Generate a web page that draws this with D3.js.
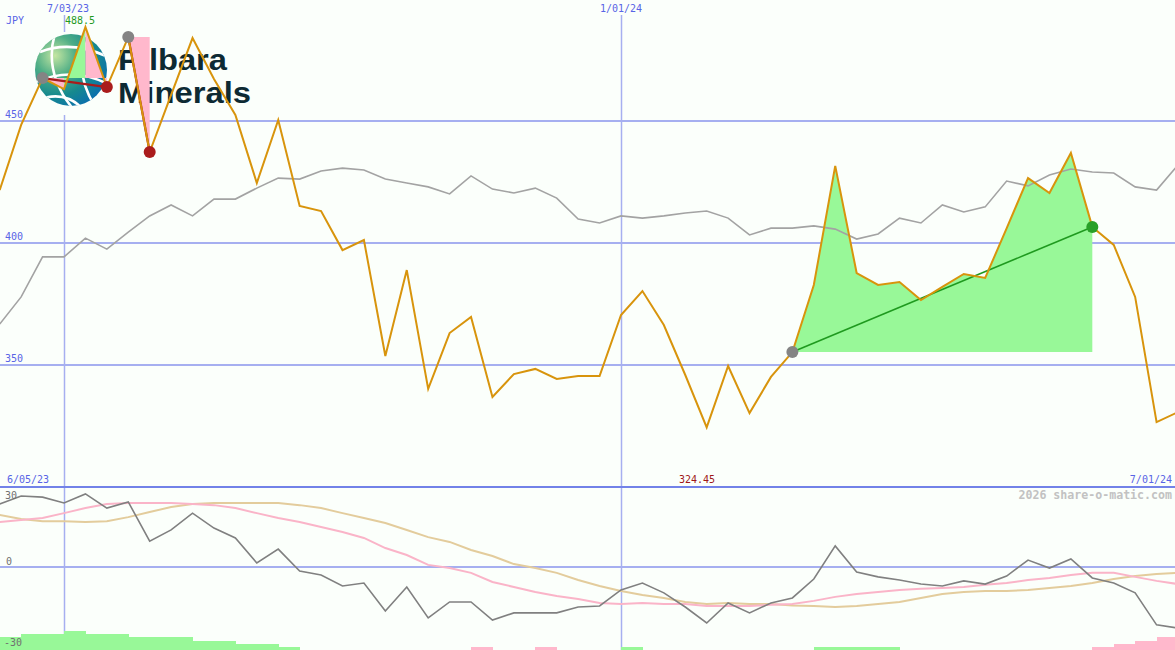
<!DOCTYPE html>
<html>
<head>
<meta charset="utf-8">
<script src="https://cdn.jsdelivr.net/npm/d3@7"></script>
<style>
html,body{margin:0;padding:0;background:#fbfffb;}
svg{display:block;}
text.lbl{font-family:"DejaVu Sans Mono",monospace;}
text.logo{font-family:"Liberation Sans",Arial,sans-serif;font-weight:700;}
</style>
</head>
<body>
<svg id="chart" width="1175" height="650"></svg>
<script>
// ---------- DATA ----------
const startDate = Date.UTC(2023, 5, 12);           // weekly closes, 12 Jun 2023 .. 1 Jul 2024
const price = [421.7,448.4,467.6,463.1,488.5,463.9,484.4,437.3,460.7,484.0,
               467.2,452.5,424.6,450.4,415.2,413.1,397.1,401.2,353.7,388.9,
               340.2,363.1,369.7,336.9,346.3,348.4,344.3,345.5,345.5,370.5,
               380.3,366.4,345.9,324.45,349.6,330.3,345.1,355.3,382.8,431.6,
               387.7,382.8,384.0,376.6,382.0,387.3,385.7,406.0,426.6,420.5,
               436.9,406.6,399.2,377.9,326.6,330.7];
const compare = [366.8,377.9,394.3,394.3,402.0,397.5,404.5,411.1,415.6,411.1,
                 418.0,418.0,422.5,426.6,426.2,429.5,430.7,429.9,426.2,424.6,
                 423.0,420.1,427.5,422.1,420.5,422.5,418.4,409.8,408.2,411.1,
                 410.2,411.1,412.3,413.1,410.2,403.3,406.1,406.1,407.0,405.7,
                 401.6,403.7,410.2,408.2,415.6,412.7,414.8,425.4,423.4,427.9,
                 430.3,429.1,428.7,423.0,421.7,432.0];
const osc = [23.6,26.6,26.2,24.0,27.4,22.1,24.4,9.7,13.9,20.2,
             14.6,10.9,1.5,6.7,-1.5,-3.0,-7.1,-6.0,-16.5,-7.5,
             -19.1,-13.1,-13.1,-19.9,-17.2,-17.2,-17.2,-15.0,-14.6,-8.6,
             -6.0,-9.7,-15.0,-21.0,-13.5,-17.2,-13.5,-11.6,-4.5,7.9,
             -1.9,-3.7,-4.9,-6.4,-7.1,-5.2,-6.4,-3.4,2.6,-0.4,
             3.0,-4.1,-6.0,-9.7,-21.7,-22.9];
const oscFast = [16.9,17.6,18.4,20.2,22.1,23.6,24.0,24.0,24.0,23.6,
                 23.2,22.1,20.2,18.4,16.9,15.0,13.1,10.9,7.1,4.5,
                 0.8,-0.4,-2.2,-5.6,-7.5,-9.4,-10.9,-12.0,-13.5,-13.9,
                 -13.5,-13.9,-13.9,-14.6,-14.6,-14.6,-14.2,-13.9,-12.7,-11.2,
                 -10.1,-9.4,-8.6,-8.2,-7.9,-7.5,-6.7,-6.0,-4.9,-4.1,
                 -3.0,-2.2,-2.2,-3.7,-5.2,-6.4];
const oscSlow = [19.5,18.0,17.2,17.2,16.9,17.2,18.7,20.6,22.5,23.6,
                 24.0,24.0,24.0,24.0,23.2,22.1,20.2,18.4,16.5,13.9,
                 11.2,9.4,6.4,4.1,1.1,-0.4,-2.2,-4.9,-7.1,-9.0,
                 -10.5,-11.6,-13.1,-13.9,-13.5,-13.9,-13.9,-14.4,-14.6,-15.0,
                 -14.6,-13.9,-13.1,-11.6,-10.1,-9.4,-9.0,-9.0,-8.6,-7.9,
                 -7.1,-6.0,-4.5,-3.4,-2.6,-2.2];
const histo = [4,5,5,6,5,5,4,4,4,3,
               3,2,2,1,0,0,0,0,0,0,
               0,0,-1,0,0,-1,0,0,0,1,
               0,0,0,0,0,0,0,0,1,1,
               1,1,0,0,0,0,0,0,0,0,
               0,-1,-2,-3,-4,-4];
const priceTicks = [350, 400, 450];
const oscTicks = [30, 0, -30];
const dateTicks = [Date.UTC(2023,6,3), Date.UTC(2024,0,1)];
const dateTickLabels = ["7/03/23", "1/01/24"];
const rangeLabels = ["6/05/23", "7/01/24"];
const currency = "JPY";
const maxLabel = "488.5", minLabel = "324.45";
const credit = "2026 share-o-matic.com";
const logoLines = ["Pilbara", "Minerals"];
// patterns: [startIndex, endIndex, kind]
const patterns = [[2, 5, "down"], [6, 7, "down"], [37, 51, "up"]];
const segFills = [[2,3,2,"pink"],[3,4,2,"green"],[4,5,2,"pink"],[6,7,6,"pink"],[37,51,37,"green"]];

// ---------- SCALES ----------
const W = 1175, H = 650;
const dates = price.map((_, i) => new Date(startDate + i * 7 * 864e5));
const x = d3.scaleUtc().domain(dateTicks).range([64, 621]);
const yP = d3.scaleLinear().domain([300, 500]).range([487, -1]);
const yO = d3.scaleLinear().domain([-30, 30]).range([647, 487]);
const yB = d3.scaleLinear().domain([0, 6]).range([650, 631]);
const step = x(dates[1]) - x(dates[0]);

const svg = d3.select("#chart");
svg.append("rect").attr("width", W).attr("height", H).attr("fill", "#fbfffb");
const defs = svg.append("defs");
defs.append("clipPath").attr("id", "clipTop").append("rect").attr("x",0).attr("y",0).attr("width",W).attr("height",486);
defs.append("clipPath").attr("id", "clipBot").append("rect").attr("x",0).attr("y",488).attr("width",W).attr("height",H-488);

const gridC = "#a6aff0", labC = "#5864e6";

// gridlines
svg.selectAll("line.hp").data(priceTicks).join("line")
  .attr("x1", 0).attr("x2", W).attr("y1", d => yP(d)).attr("y2", d => yP(d))
  .attr("stroke", gridC).attr("stroke-width", 2);
svg.append("line").attr("x1",0).attr("x2",W).attr("y1",yO(0)).attr("y2",yO(0))
  .attr("stroke", gridC).attr("stroke-width", 2);
svg.selectAll("line.v").data(dateTicks).join("line")
  .attr("x1", d => Math.round(x(d)) + 0.5).attr("x2", d => Math.round(x(d)) + 0.5)
  .attr("y1", 15).attr("y2", H).attr("stroke", gridC).attr("stroke-width", 1.5);

// ---------- LOGO ----------
const logo = svg.append("g");
logo.append("rect").attr("x", 30).attr("y", 32).attr("width", 228).attr("height", 83).attr("fill", "#fbfffb");
const rg = defs.append("radialGradient").attr("id","globeG").attr("cx","28%").attr("cy","30%").attr("r","80%");
rg.append("stop").attr("offset","0%").attr("stop-color","#c4e6a2");
rg.append("stop").attr("offset","35%").attr("stop-color","#4fae86");
rg.append("stop").attr("offset","70%").attr("stop-color","#16898e");
rg.append("stop").attr("offset","100%").attr("stop-color","#0b6fae");
defs.append("clipPath").attr("id","globeClip").append("circle").attr("cx",71).attr("cy",70).attr("r",36);
logo.append("circle").attr("cx",71).attr("cy",70).attr("r",36).attr("fill","url(#globeG)");
const gl = logo.append("g").attr("clip-path","url(#globeClip)").attr("fill","none").attr("stroke","#ffffff").attr("stroke-width",2.6);
gl.append("path").attr("d","M40,52 Q70,40 106,56");
gl.append("path").attr("d","M36,82 Q72,66 108,84");
gl.append("path").attr("d","M56,30 Q42,72 74,110");
gl.append("path").attr("d","M92,32 Q70,68 96,108");
gl.append("path").attr("d","M38,100 Q64,90 82,108");
logo.selectAll("text").data(logoLines).join("text").attr("class","logo")
  .attr("x",118).attr("y",(d,i) => i ? 103 : 70).text(d => d)
  .attr("font-size",29).attr("fill","#0d2a33")
  .attr("textLength",(d,i) => i ? 133 : 109).attr("lengthAdjust","spacingAndGlyphs");

// ---------- MAIN PANEL ----------
const gTop = svg.append("g").attr("clip-path", "url(#clipTop)");
const pts = price.map((v, i) => ({d: dates[i], v}));
segFills.forEach(([a, b, base, kind]) => {
  const area = d3.area().x(p => x(p.d)).y0(yP(price[base])).y1(p => yP(p.v));
  gTop.append("path").attr("d", area(pts.slice(a, b + 1)))
    .attr("fill", kind === "green" ? "#98f898" : "#ffb8cc");
});
gTop.append("path").attr("d", d3.line().x((v, i) => x(dates[i])).y(v => yP(v))(compare))
  .attr("fill","none").attr("stroke","#a3a3a3").attr("stroke-width",1.6);
patterns.forEach(([a, b, kind]) => {
  gTop.append("path").attr("d", d3.line().x(p => x(p.d)).y(p => yP(p.v))([pts[a], pts[b]]))
    .attr("fill","none").attr("stroke", kind === "up" ? "#1f9a1f" : "#a81c1c").attr("stroke-width", kind === "up" ? 1.6 : 2.2);
});
gTop.append("path").attr("d", d3.line().x(p => x(p.d)).y(p => yP(p.v))(pts))
  .attr("fill","none").attr("stroke","#d8940c").attr("stroke-width",2);
patterns.forEach(([a, b, kind]) => {
  gTop.append("circle").attr("cx", x(dates[a])).attr("cy", yP(price[a])).attr("r", 6).attr("fill", "#848484");
  gTop.append("circle").attr("cx", x(dates[b])).attr("cy", yP(price[b])).attr("r", 6)
    .attr("fill", kind === "up" ? "#28a028" : "#aa1c1c");
});

// ---------- LOWER PANEL ----------
const gBot = svg.append("g").attr("clip-path", "url(#clipBot)");
gBot.selectAll("rect.h").data(histo.map((v, i) => ({v, d: dates[i]})).filter(p => p.v !== 0)).join("rect")
  .attr("x", p => x(p.d)).attr("width", step + 0.5)
  .attr("y", p => yB(Math.abs(p.v))).attr("height", p => yB(0) - yB(Math.abs(p.v)))
  .attr("fill", p => p.v > 0 ? "#98f898" : "#ffb8cc").attr("shape-rendering","crispEdges");
const oline = d3.line().x((v, i) => x(dates[i])).y(v => yO(v));
gBot.append("path").attr("d", oline(oscSlow)).attr("fill","none").attr("stroke","#e3cc9c").attr("stroke-width",2);
gBot.append("path").attr("d", oline(oscFast)).attr("fill","none").attr("stroke","#fab4c8").attr("stroke-width",2);
gBot.append("path").attr("d", oline(osc)).attr("fill","none").attr("stroke","#808080").attr("stroke-width",1.6);

// separator
svg.append("line").attr("x1",0).attr("x2",W).attr("y1",487).attr("y2",487).attr("stroke","#7282e8").attr("stroke-width",2);

// ---------- LABELS ----------
const lab = (t, xx, yy, opts = {}) => svg.append("text").attr("class","lbl").text(t).attr("x", xx).attr("y", yy)
  .attr("font-size", opts.size || 10).attr("fill", opts.fill || labC)
  .attr("text-anchor", opts.anchor || "start").attr("font-weight", opts.weight || 400);
lab(currency, 6, 24);
priceTicks.forEach(t => lab(String(t), 5, yP(t) - 3));
dateTicks.forEach((t, i) => lab(dateTickLabels[i], x(t) + (i === 0 ? 4 : 0), 12, {anchor: "middle"}));
lab(maxLabel, 65, 24, {fill: "#1f9a1f"});
lab(rangeLabels[0], 7, 483);
lab(rangeLabels[1], 1172, 483, {anchor: "end"});
lab(minLabel, 697, 483, {anchor: "middle", fill: "#a01818"});
lab(credit, 1172, 499, {anchor: "end", fill: "#c2c2c2", size: 11.6, weight: 700});
lab(String(oscTicks[0]), 5, 499, {fill: "#707070"});
lab(String(oscTicks[1]), 6, 565, {fill: "#707070"});
lab(String(oscTicks[2]), 4, 646, {fill: "#707070"});
</script>
</body>
</html>
